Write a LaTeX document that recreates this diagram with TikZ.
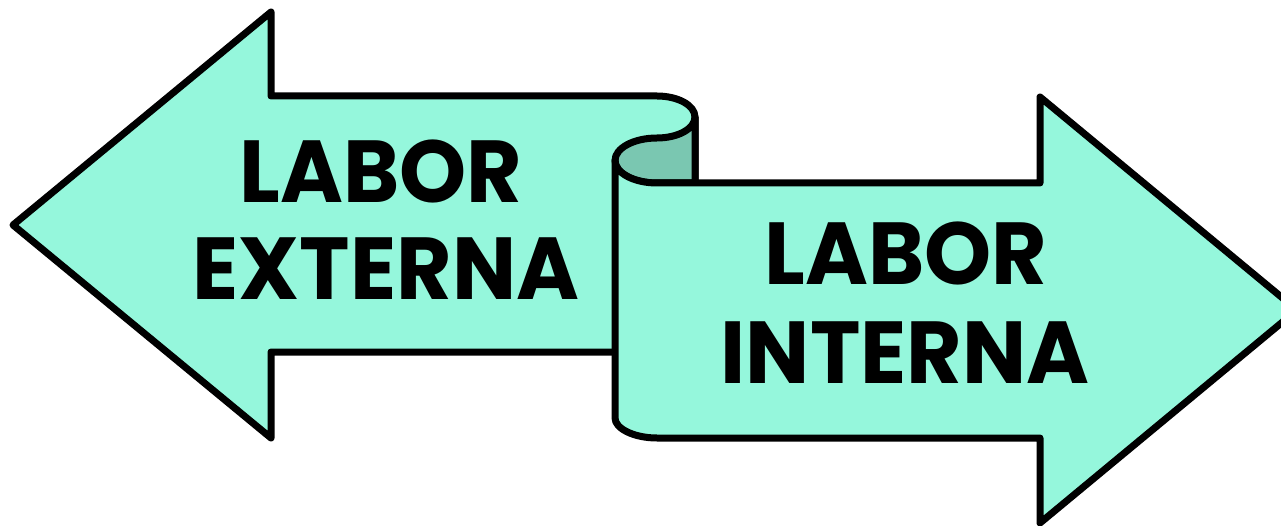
\documentclass[tikz,border=0pt]{standalone}
\usepackage{fontspec}
\setmainfont{Poppins}[UprightFont=* Bold,FakeStretch=0.97]
\definecolor{mint}{RGB}{149,247,220}
\definecolor{mintdark}{RGB}{122,199,177}
\begin{document}
\begin{tikzpicture}[x=1pt,y=-1pt,
  arrowbody/.style={fill=mint,draw=black,line width=7pt,line join=round},
  curlpart/.style={fill=mintdark,draw=black,line width=7pt,line join=round},
  lbl/.style={anchor=base,inner sep=0pt,font=\fontsize{88}{88}\selectfont}]
\useasboundingbox (0,0) rectangle (1281,526);
\clip (0,0) rectangle (1281,526);
% left arrow
\draw[arrowbody] (695,352) -- (271,352) -- (271,438) -- (13,225) -- (271,12) -- (271,96)
  -- (657,96) .. controls (678,96) and (695,105.4) .. (695,117) -- cycle;
% curl
\draw[curlpart] (695,117) .. controls (695,128.6) and (678,138) .. (657,138)
  .. controls (633.8,138) and (615,148.1) .. (615,160.5)
  .. controls (615,172.9) and (633.8,183) .. (657,183) -- (695,183) -- cycle;
% right arrow
\draw[arrowbody] (615,160.5) -- (615,418) .. controls (615,428.5) and (633.8,438) .. (657,438)
  -- (1040,438) -- (1040,523) -- (1297,310) -- (1040,97) -- (1040,183) -- (657,183)
  .. controls (633.8,183) and (615,172.9) .. (615,160.5) -- cycle;
\node[lbl] (ext1) at (381,203) {LABOR};
\node[lbl] (ext2) at (386,300) {EXTERNA};
\node[lbl] (int1) at (906,285) {LABOR};
\node[lbl] (int2) at (905,383) {INTERNA};
\end{tikzpicture}
\end{document}
